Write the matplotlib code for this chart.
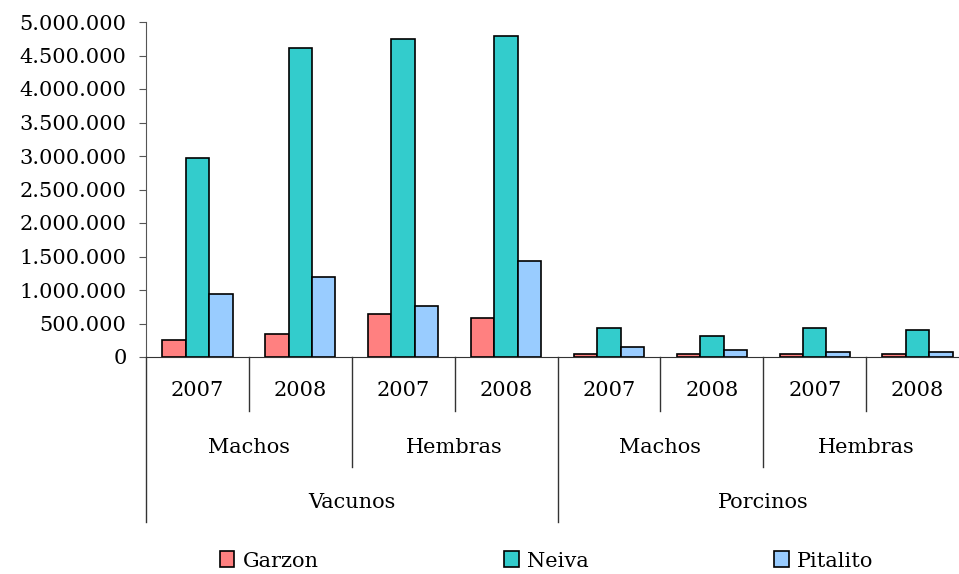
import matplotlib.pyplot as plt
import numpy as np
from matplotlib.patches import Patch
from matplotlib.ticker import FuncFormatter

plt.rcParams["font.family"] = ["DejaVu Serif"]

# data
years = ["2007", "2008", "2007", "2008", "2007", "2008", "2007", "2008"]
sexes = ["Machos", "Hembras", "Machos", "Hembras"]
species = ["Vacunos", "Porcinos"]
garzon = [250000, 340000, 640000, 580000, 50000, 50000, 50000, 50000]
neiva = [2970000, 4610000, 4750000, 4790000, 430000, 310000, 430000, 400000]
pitalito = [940000, 1190000, 760000, 1430000, 145000, 100000, 75000, 70000]

series = [("Garzon", garzon, "#FF8080"),
          ("Neiva", neiva, "#33CCCC"),
          ("Pitalito", pitalito, "#99CCFF")]

fs = 15
fig = plt.figure(figsize=(9.59, 5.74), dpi=100)
ax = fig.add_axes([146 / 959, 217 / 574, 823 / 959, 335 / 574])

x = np.arange(len(years))
w = 0.228
for i, (name, vals, col) in enumerate(series):
    ax.bar(x + (i - 1) * w, vals, w, color=col, edgecolor="black", linewidth=1.2, label=name)

ax.set_xlim(-0.5, len(years) - 0.5)
ax.set_ylim(0, 5000000)
ax.set_yticks(np.arange(0, 5000001, 500000))
ax.yaxis.set_major_formatter(FuncFormatter(lambda v, p: f"{int(v):,}".replace(",", ".")))
ax.tick_params(axis="y", direction="out", length=5, labelsize=fs, color="#555555", pad=9)
ax.set_xticks([])
for s in ["top", "right"]:
    ax.spines[s].set_visible(False)
ax.spines["left"].set_color("#555555")
ax.spines["bottom"].set_color("#333333")

trans = ax.get_xaxis_transform()
line_kw = dict(color="#333333", linewidth=1, transform=trans, clip_on=False)

# year level
for i, yr in enumerate(years):
    ax.text(i, -0.101, yr, ha="center", va="center", fontsize=fs, transform=trans)
for b in np.arange(0.5, len(years) - 1, 2):
    ax.plot([b, b], [0, -0.161], **line_kw)

# sex level
for j, sx in enumerate(sexes):
    ax.text(2 * j + 0.5, -0.269, sx, ha="center", va="center", fontsize=fs, transform=trans)
for b in [1.5, 5.5]:
    ax.plot([b, b], [0, -0.328], **line_kw)

# species level
for k, sp in enumerate(species):
    ax.text(4 * k + 1.5, -0.433, sp, ha="center", va="center", fontsize=fs, transform=trans)
for b in [-0.5, 3.5, 7.5]:
    ax.plot([b, b], [0, -0.493], **line_kw)

handles = [Patch(facecolor=c, edgecolor="black", linewidth=1.2) for _, _, c in series]
fig.legend(handles, [n for n, _, _ in series], loc="center", bbox_to_anchor=(0.570, 0.0226),
           ncol=3, frameon=False, fontsize=fs, handlelength=0.7, handleheight=0.8,
           handletextpad=0.4, columnspacing=8.9)

fig.savefig("out.png", dpi=100)
